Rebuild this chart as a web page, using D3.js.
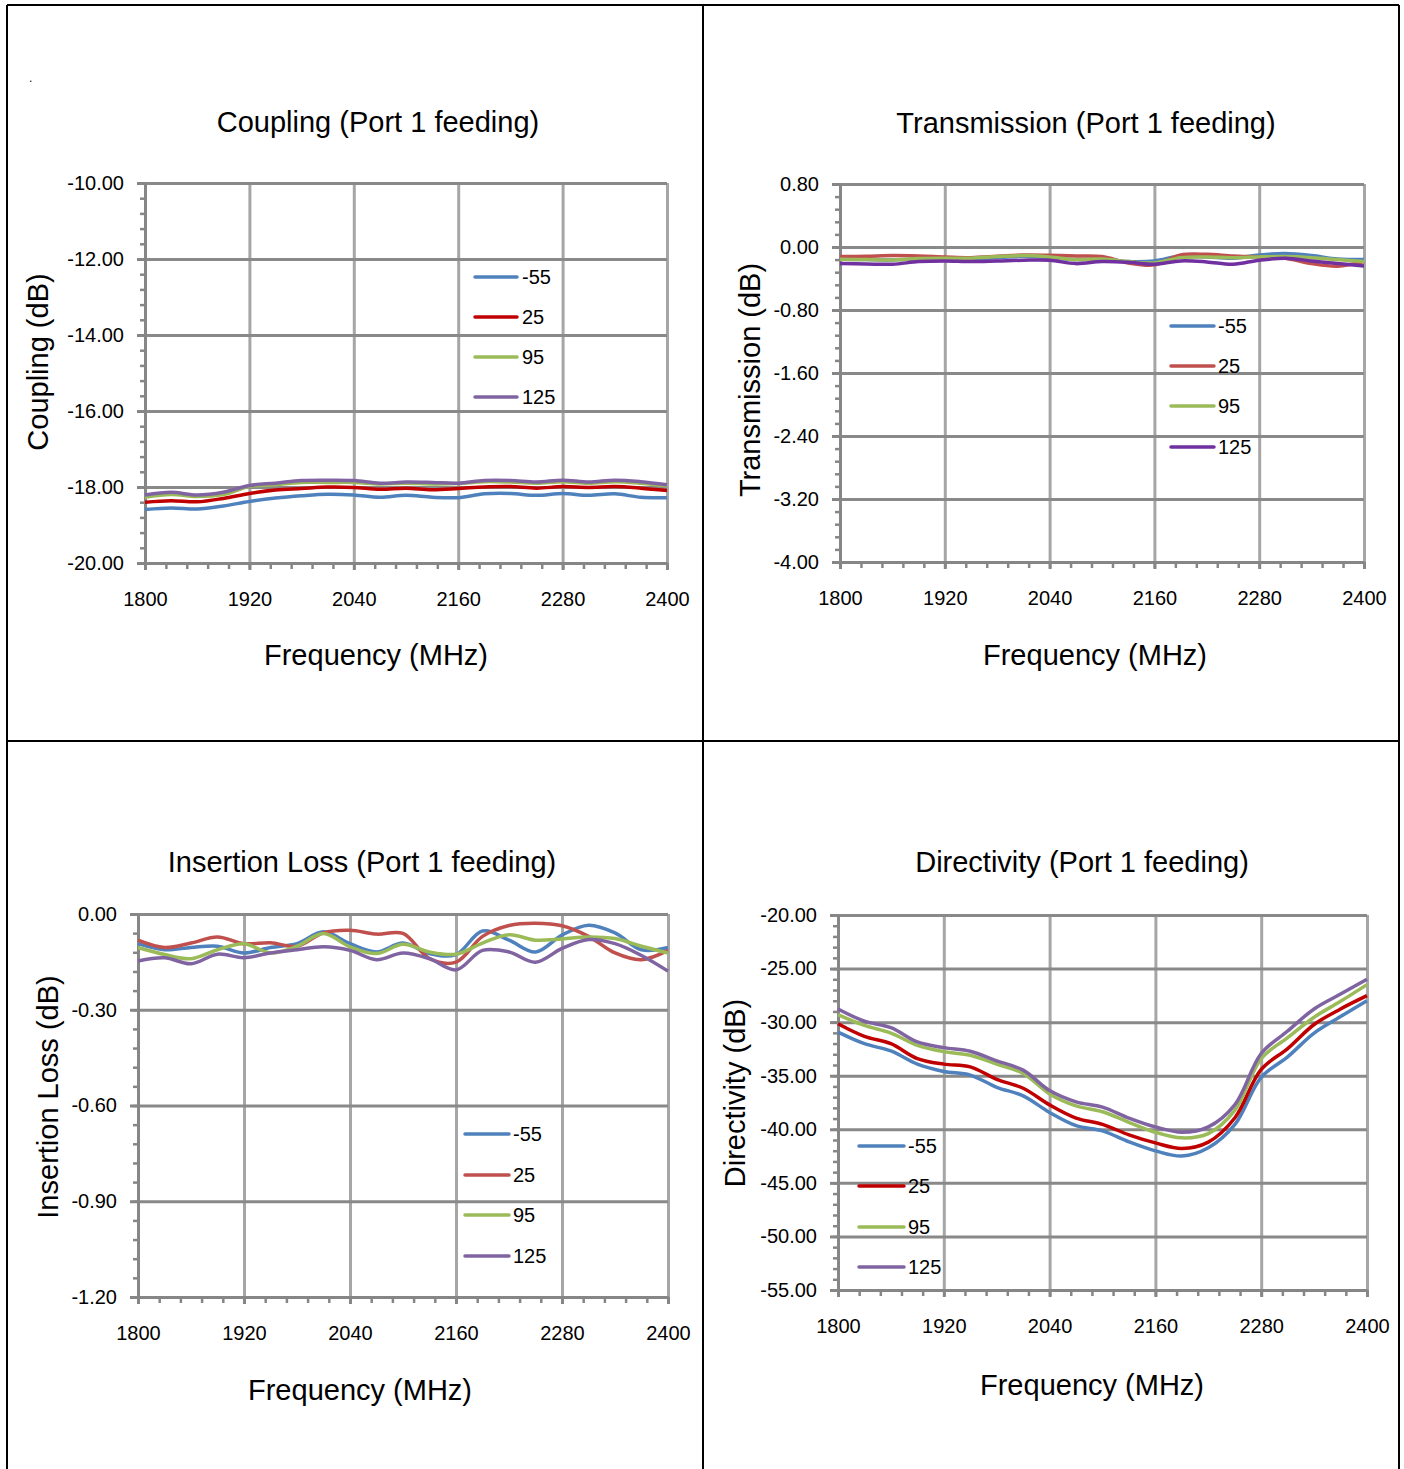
<!DOCTYPE html>
<html>
<head>
<meta charset="utf-8">
<script src="https://cdn.jsdelivr.net/npm/d3@7"></script>
<style>
  body { margin: 0; background: #fff; }
  svg { display: block; font-family: "Liberation Sans", Arial, sans-serif; }
</style>
</head>
<body>
<svg id="page" width="1404" height="1469"></svg>
<script>
// ---- data ----
const freqs = [1800,1830,1860,1890,1920,1950,1980,2010,2040,2070,2100,2130,2160,2190,2220,2250,2280,2310,2340,2370,2400];
const freqTicks = [1800,1920,2040,2160,2280,2400];
const tempLabels = ["-55","25","95","125"];

const couplingTicks = [-20,-18,-16,-14,-12,-10];
const couplingM55 = [-18.59,-18.55,-18.58,-18.50,-18.38,-18.29,-18.23,-18.19,-18.21,-18.27,-18.22,-18.27,-18.28,-18.18,-18.17,-18.22,-18.17,-18.22,-18.18,-18.27,-18.28];
const coupling25  = [-18.40,-18.36,-18.39,-18.30,-18.17,-18.08,-18.04,-18.00,-18.01,-18.06,-18.03,-18.07,-18.04,-18.00,-17.99,-18.03,-17.99,-18.01,-17.99,-18.03,-18.09];
const coupling95  = [-18.27,-18.20,-18.25,-18.20,-17.99,-17.94,-17.88,-17.88,-17.88,-17.92,-17.90,-17.92,-17.91,-17.86,-17.87,-17.90,-17.86,-17.90,-17.86,-17.90,-17.97];
const coupling125 = [-18.21,-18.14,-18.21,-18.14,-17.96,-17.90,-17.83,-17.82,-17.83,-17.90,-17.87,-17.88,-17.90,-17.83,-17.83,-17.87,-17.82,-17.87,-17.82,-17.86,-17.94];

const transTicks = [-4.0,-3.2,-2.4,-1.6,-0.8,0.0,0.8];
const transM55 = [-0.156,-0.160,-0.164,-0.152,-0.143,-0.143,-0.135,-0.118,-0.135,-0.160,-0.152,-0.185,-0.177,-0.114,-0.126,-0.143,-0.101,-0.084,-0.109,-0.152,-0.160];
const trans25  = [-0.122,-0.118,-0.109,-0.114,-0.126,-0.135,-0.118,-0.101,-0.105,-0.114,-0.122,-0.202,-0.227,-0.101,-0.093,-0.114,-0.126,-0.143,-0.211,-0.244,-0.185];
const trans95  = [-0.156,-0.160,-0.164,-0.147,-0.143,-0.143,-0.122,-0.109,-0.126,-0.160,-0.152,-0.185,-0.202,-0.135,-0.126,-0.135,-0.126,-0.122,-0.135,-0.160,-0.185];
const trans125 = [-0.211,-0.215,-0.219,-0.185,-0.177,-0.185,-0.177,-0.168,-0.168,-0.211,-0.185,-0.194,-0.219,-0.177,-0.189,-0.219,-0.168,-0.143,-0.177,-0.211,-0.240];

const lossTicks = [-1.2,-0.9,-0.6,-0.3,0.0];
const lossM55 = [-0.093,-0.112,-0.105,-0.101,-0.122,-0.105,-0.093,-0.056,-0.093,-0.119,-0.091,-0.124,-0.127,-0.053,-0.082,-0.119,-0.066,-0.035,-0.059,-0.112,-0.105];
const loss25  = [-0.082,-0.105,-0.091,-0.072,-0.093,-0.090,-0.101,-0.059,-0.051,-0.063,-0.061,-0.140,-0.151,-0.070,-0.036,-0.029,-0.037,-0.070,-0.122,-0.143,-0.114];
const loss95  = [-0.105,-0.127,-0.140,-0.112,-0.093,-0.122,-0.101,-0.061,-0.103,-0.124,-0.095,-0.119,-0.126,-0.091,-0.065,-0.082,-0.078,-0.072,-0.077,-0.101,-0.122];
const loss125 = [-0.147,-0.137,-0.156,-0.126,-0.137,-0.122,-0.112,-0.103,-0.114,-0.143,-0.122,-0.140,-0.175,-0.114,-0.119,-0.151,-0.108,-0.080,-0.093,-0.130,-0.179];

const dirTicks = [-55,-50,-45,-40,-35,-30,-25,-20];
const dirM55 = [-30.93,-32.01,-32.69,-33.92,-34.60,-34.94,-36.08,-36.88,-38.43,-39.66,-40.15,-41.17,-42.01,-42.50,-41.73,-39.57,-35.15,-33.24,-31.02,-29.48,-28.00];
const dir25  = [-30.15,-31.33,-32.01,-33.40,-33.92,-34.17,-35.34,-36.17,-37.72,-38.95,-39.54,-40.52,-41.27,-41.79,-41.20,-38.95,-34.41,-32.47,-30.22,-28.77,-27.53];
const dir95  = [-29.29,-30.31,-31.02,-32.16,-32.75,-33.09,-33.92,-34.78,-36.70,-37.81,-38.36,-39.35,-40.28,-40.80,-40.40,-38.24,-33.40,-31.45,-29.54,-28.06,-26.50];
const dir125 = [-28.77,-29.91,-30.52,-31.85,-32.38,-32.72,-33.61,-34.48,-36.39,-37.44,-37.93,-38.95,-39.78,-40.28,-39.78,-37.72,-32.93,-30.83,-28.77,-27.38,-26.00];

const svg = d3.select("#page");

// table borders
[[7,5,7,1469],[703,5,703,1469],[1399,5,1399,1469],[7,5,1399,5],[7,741,1399,741]].forEach(l => {
    svg.append("line")
        .attr("x1", l[0]).attr("y1", l[1]).attr("x2", l[2]).attr("y2", l[3])
        .attr("stroke", "#000").attr("stroke-width", 2);
});

// stray dot in the first cell
svg.append("text").attr("x", 29).attr("y", 82).style("font-size", "12px").text(".");

function drawPanel(p) {
    const g = svg.append("g");
    const x = d3.scaleLinear().domain([1800, 2400]).range([p.left, p.right]);
    const y = d3.scaleLinear().domain([p.ticks[0], p.ticks[p.ticks.length - 1]]).range([p.bottom, p.top]);

    const nMinor = Math.round((p.ticks[p.ticks.length - 1] - p.ticks[0]) / p.minor);
    const yMinor = d3.range(nMinor + 1).map(i => p.ticks[0] + i * p.minor);
    const xMinor = d3.range(26).map(i => 1800 + i * 24);

    // vertical gridlines
    g.append("g")
        .attr("transform", `translate(0,${p.bottom})`)
        .call(d3.axisBottom(x).tickValues(freqTicks.slice(1)).tickSize(-(p.bottom - p.top)).tickFormat(""))
        .call(a => a.select(".domain").remove())
        .selectAll("line").attr("stroke", "#a6a6a6").attr("stroke-width", 3);

    // horizontal gridlines
    g.append("g")
        .attr("transform", `translate(${p.left},0)`)
        .call(d3.axisLeft(y).tickValues(p.ticks.slice(1)).tickSize(-(p.right - p.left)).tickFormat(""))
        .call(a => a.select(".domain").remove())
        .selectAll("line").attr("stroke", "#898989").attr("stroke-width", 3);

    // minor ticks
    g.append("g")
        .attr("transform", `translate(${p.left},0)`)
        .call(d3.axisLeft(y).tickValues(yMinor).tickSize(5).tickFormat(""))
        .call(a => a.select(".domain").remove())
        .selectAll("line").attr("stroke", "#868686").attr("stroke-width", 2.5);
    g.append("g")
        .attr("transform", `translate(0,${p.bottom})`)
        .call(d3.axisBottom(x).tickValues(xMinor).tickSize(6).tickFormat(""))
        .call(a => a.select(".domain").remove())
        .selectAll("line").attr("stroke", "#868686").attr("stroke-width", 2.5);

    // y axis
    const ya = g.append("g")
        .attr("transform", `translate(${p.left},0)`)
        .call(d3.axisLeft(y).tickValues(p.ticks).tickSize(8).tickSizeOuter(0).tickPadding(13)
            .tickFormat(d => d.toFixed(2)));
    ya.select(".domain").attr("stroke", "#868686").attr("stroke-width", 3);
    ya.selectAll("line").attr("stroke", "#868686").attr("stroke-width", 3);
    ya.selectAll("text").attr("fill", "#000").style("font-size", "20px")
        .style("font-family", "'Liberation Sans', Arial, sans-serif");

    // x axis
    const xa = g.append("g")
        .attr("transform", `translate(0,${p.bottom})`)
        .call(d3.axisBottom(x).tickValues(freqTicks).tickSize(7).tickSizeOuter(0).tickPadding(22)
            .tickFormat(d3.format("d")));
    xa.select(".domain").attr("stroke", "#868686").attr("stroke-width", 3);
    xa.selectAll("line").attr("stroke", "#868686").attr("stroke-width", 3);
    xa.selectAll("text").attr("fill", "#000").style("font-size", "20px")
        .style("font-family", "'Liberation Sans', Arial, sans-serif");

    // series
    const line = d3.line()
        .x((d, i) => x(freqs[i]))
        .y(d => y(d))
        .curve(d3.curveCatmullRom.alpha(0.5));

    p.series.forEach((s, i) => {
        g.append("path")
            .datum(s)
            .attr("fill", "none")
            .attr("stroke", p.colors[i])
            .attr("stroke-width", 3.5)
            .attr("stroke-linejoin", "round")
            .attr("d", line);
    });

    // titles
    g.append("text")
        .attr("x", p.title[0]).attr("y", p.title[1]).attr("dy", "0.35em")
        .attr("text-anchor", "middle").style("font-size", "29px")
        .text(p.titleText);
    g.append("text")
        .attr("x", p.xTitle[0]).attr("y", p.xTitle[1]).attr("dy", "0.35em")
        .attr("text-anchor", "middle").style("font-size", "29px")
        .text("Frequency (MHz)");
    g.append("text")
        .attr("transform", `translate(${p.yTitle[0]},${p.yTitle[1]}) rotate(-90)`)
        .attr("dy", "0.35em")
        .attr("text-anchor", "middle").style("font-size", "29px")
        .text(p.yTitleText);

    // legend
    const leg = g.append("g");
    tempLabels.forEach((t, i) => {
        const ry = p.legend.rows[i];
        leg.append("line")
            .attr("x1", p.legend.x1).attr("x2", p.legend.x2)
            .attr("y1", ry).attr("y2", ry)
            .attr("stroke", p.colors[i]).attr("stroke-width", 3.5).attr("stroke-linecap", "round");
        leg.append("text")
            .attr("x", p.legend.tx).attr("y", ry).attr("dy", "0.36em")
            .style("font-size", "20px")
            .text(t);
    });
}

drawPanel({
    left: 145, right: 667, top: 183, bottom: 563,
    ticks: couplingTicks, minor: 0.4,
    series: [couplingM55, coupling25, coupling95, coupling125],
    colors: ["#4F81BD", "#C00000", "#9BBB59", "#8064A2"],
    titleText: "Coupling (Port 1 feeding)", title: [378, 122],
    xTitle: [376, 655], yTitleText: "Coupling (dB)", yTitle: [38, 362],
    legend: { x1: 475, x2: 517, tx: 522, rows: [277, 317, 357, 397] }
});

drawPanel({
    left: 840, right: 1364, top: 184, bottom: 562,
    ticks: transTicks, minor: 0.16,
    series: [transM55, trans25, trans95, trans125],
    colors: ["#4F81BD", "#C0504D", "#9BBB59", "#7030A0"],
    titleText: "Transmission (Port 1 feeding)", title: [1086, 123],
    xTitle: [1095, 655], yTitleText: "Transmission (dB)", yTitle: [750, 380],
    legend: { x1: 1171, x2: 1214, tx: 1218, rows: [326, 366, 406, 447] }
});

drawPanel({
    left: 138, right: 668, top: 914, bottom: 1297,
    ticks: lossTicks, minor: 0.06,
    series: [lossM55, loss25, loss95, loss125],
    colors: ["#4F81BD", "#C0504D", "#9BBB59", "#8064A2"],
    titleText: "Insertion Loss (Port 1 feeding)", title: [362, 862],
    xTitle: [360, 1390], yTitleText: "Insertion Loss (dB)", yTitle: [48, 1097],
    legend: { x1: 465, x2: 509, tx: 513, rows: [1134, 1175, 1215, 1256] }
});

drawPanel({
    left: 838, right: 1367, top: 915, bottom: 1290,
    ticks: dirTicks, minor: 1,
    series: [dirM55, dir25, dir95, dir125],
    colors: ["#4F81BD", "#C00000", "#9BBB59", "#8064A2"],
    titleText: "Directivity (Port 1 feeding)", title: [1082, 862],
    xTitle: [1092, 1385], yTitleText: "Directivity (dB)", yTitle: [735, 1093],
    legend: { x1: 859, x2: 904, tx: 908, rows: [1146, 1186, 1227, 1267] }
});
</script>
</body>
</html>
